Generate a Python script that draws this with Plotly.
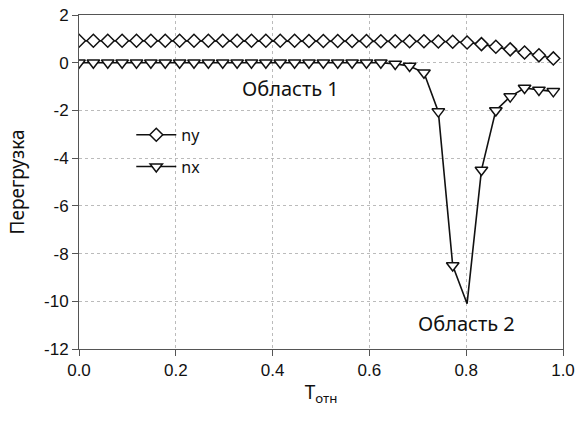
import numpy as np
import plotly.graph_objects as go

t_rel = np.linspace(0.0, 0.98, 34)

ny = [0.92, 0.92, 0.92, 0.92, 0.92, 0.92, 0.92, 0.92, 0.92, 0.92,
      0.92, 0.92, 0.92, 0.92, 0.92, 0.92, 0.91, 0.91, 0.91, 0.91,
      0.91, 0.90, 0.90, 0.90, 0.90, 0.89, 0.88, 0.85, 0.78, 0.67,
      0.56, 0.43, 0.31, 0.18]

nx = [0.0, 0.0, 0.0, 0.0, 0.0, 0.0, 0.0, 0.0, 0.0, 0.0,
      0.0, 0.0, 0.0, 0.0, 0.0, 0.0, 0.0, 0.0, 0.0, 0.0,
      0.0, 0.0, -0.05, -0.14, -0.42, -2.05, -8.5, -10.1, -4.5, -2.0,
      -1.42, -1.06, -1.14, -1.2]

x_ticks = [0.0, 0.2, 0.4, 0.6, 0.8, 1.0]
y_ticks = [2, 0, -2, -4, -6, -8, -10, -12]

# the deepest nx point is drawn as a bare vertex (no marker)
i_min = int(np.argmin(nx))
nx_sizes = [0 if i == i_min else 11 for i in range(len(nx))]

fig = go.Figure()
fig.add_trace(go.Scatter(
    x=t_rel, y=ny, name="ny", mode="lines+markers", legendgroup="a",
    line=dict(color="#111111", width=1.6),
    marker=dict(symbol="diamond", size=10, color="#ffffff", opacity=1,
                line=dict(color="#111111", width=1.5)),
))
fig.add_trace(go.Scatter(
    x=t_rel, y=nx, name="nx", mode="lines+markers", legendgroup="b",
    line=dict(color="#111111", width=1.6),
    marker=dict(symbol="triangle-down", size=nx_sizes, color="#ffffff",
                opacity=1, line=dict(color="#111111", width=1.5)),
))

fig.add_annotation(x=0.438, y=-1.1, text="Область 1", showarrow=False,
                   font=dict(family="Noto Sans", size=20, color="#111111"))
fig.add_annotation(x=0.80, y=-10.95, text="Область 2", showarrow=False,
                   font=dict(family="Noto Sans", size=20, color="#111111"))

axis_common = dict(
    showline=True, mirror=True, linecolor="#555555", linewidth=1,
    showgrid=True, gridcolor="#bbbbbb", griddash="dot", gridwidth=1,
    ticks="outside", ticklen=6, tickcolor="#555555",
    zeroline=False, automargin=False, ticklabeloverflow="allow",
    tickfont=dict(family="Liberation Sans", size=17, color="#111111"),
)

fig.update_xaxes(range=[0, 1.0], tickvals=x_ticks,
                 ticktext=[f"{v:.1f}" for v in x_ticks],
                 title=dict(text="T<sub>отн</sub>", standoff=6,
                            font=dict(family="Noto Sans", size=19, color="#111111")),
                 **axis_common)
fig.update_yaxes(range=[-12, 2], tickvals=y_ticks,
                 ticktext=[str(v) for v in y_ticks],
                 title=dict(text="Перегрузка", standoff=14,
                            font=dict(family="Noto Sans", size=19, color="#111111")),
                 **axis_common)

fig.update_layout(
    width=579, height=421,
    margin=dict(l=79, r=16, t=15, b=72),
    paper_bgcolor="white", plot_bgcolor="white",
    showlegend=True,
    legend=dict(x=0.108, y=0.692, xanchor="left", yanchor="top",
                bgcolor="rgba(0,0,0,0)", borderwidth=0,
                font=dict(family="Noto Sans", size=16, color="#111111"),
                tracegroupgap=8, itemwidth=40),
)

# remove the page's default body margin so the figure fills the window
fig.write_html("out.html",
               config={"displayModeBar": False},
               post_script="document.body.style.margin='0';"
                           "document.body.style.overflow='hidden';")
